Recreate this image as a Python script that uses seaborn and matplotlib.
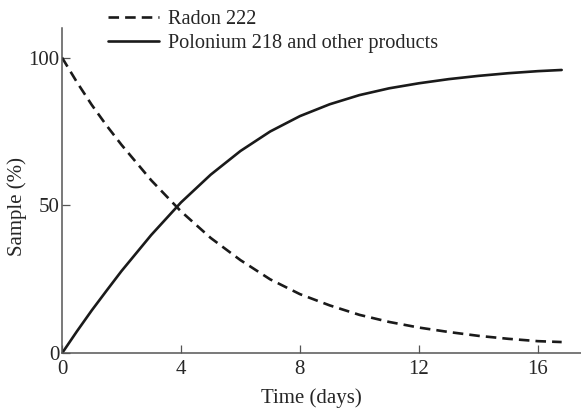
import matplotlib
matplotlib.use("Agg")
import matplotlib.pyplot as plt
import pandas as pd
import seaborn as sns

# --- Data ---
DAYS = [0, 0.5, 1, 1.5, 2, 3, 4, 5, 6, 7, 8, 9, 10, 11, 12, 13, 14, 15, 16, 16.8]
RADON = [100, 91.7, 84, 77, 70.5, 58.5, 48, 39, 31.5, 25, 20, 16.2, 13, 10.6, 8.7, 7.2, 5.9, 4.9, 4.1, 3.8]
POLONIUM = [0, 7.4, 14.5, 21.2, 27.8, 40, 51, 60.4, 68.4, 75, 80.2, 84.2, 87.3, 89.6, 91.3, 92.7, 93.8, 94.7, 95.4, 95.8]
LABELS = ["Radon 222", "Polonium 218 and other products"]

X_TICKS = [0, 4, 8, 12, 16]
Y_TICKS = [0, 50, 100]

df = pd.DataFrame({
    "days": DAYS * 2,
    "pct": RADON + POLONIUM,
    "series": [LABELS[0]] * len(DAYS) + [LABELS[1]] * len(DAYS),
})

sns.set_style("ticks")
plt.rcParams["font.family"] = ["Liberation Serif", "DejaVu Serif"]
plt.rcParams["font.size"] = 15

fig = plt.figure(figsize=(5.81, 4.12), dpi=100)
ax = fig.add_axes([0.1067, 0.1425, 0.8933, 0.7896])

ink = "#1a1a1a"
sns.lineplot(data=df, x="days", y="pct", hue="series", style="series",
             palette=[ink, ink], dashes={LABELS[0]: (4, 2.3), LABELS[1]: ""},
             linewidth=1.9, ax=ax, legend=False, sort=False)

ax.set_xlim(0, 17.45)
ax.set_ylim(0, 110)
ax.set_xticks(X_TICKS)
ax.set_yticks(Y_TICKS)
ax.tick_params(direction="in", length=6, width=0.9, color="#555555",
               labelsize=15)
ax.tick_params(axis="x", pad=5)
ax.tick_params(axis="y", pad=2)
for side in ["top", "right"]:
    ax.spines[side].set_visible(False)
for side in ["left", "bottom"]:
    ax.spines[side].set_color("#555555")
    ax.spines[side].set_linewidth(1.1)

ax.set_xlabel("Time (days)", fontsize=15)
ax.xaxis.set_label_coords(0.48, -0.108, transform=ax.transAxes)
ax.set_ylabel("Sample (%)", fontsize=15)
ax.yaxis.set_label_coords(-0.068, 0.45, transform=ax.transAxes)

handles = [
    plt.Line2D([], [], color=ink, lw=1.9, dashes=(4, 2.3)),
    plt.Line2D([], [], color=ink, lw=1.9),
]
fig.legend(handles, LABELS, loc="upper left", bbox_to_anchor=(0.172, 0.995),
           frameon=False, fontsize=14.6, handlelength=2.5, handletextpad=0.45,
           labelspacing=0.22, borderaxespad=0)

fig.savefig("out.png", dpi=100)
